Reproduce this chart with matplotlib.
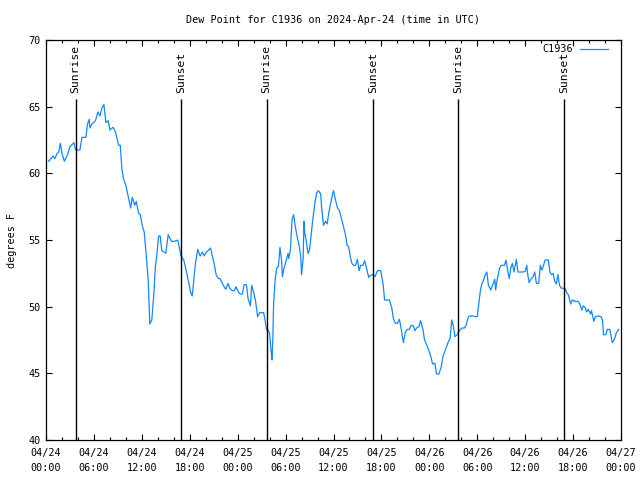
import datetime
import matplotlib
matplotlib.use("Agg")
import matplotlib.pyplot as plt
import matplotlib.dates as mdates

# hours since 2024-04-24 00:00 UTC, dew point in deg F
hours = [0.3, 0.9, 1.1, 1.4, 1.6, 1.8, 2.0, 2.3, 2.7, 3.0, 3.5, 3.7, 4.25, 4.5, 5.0, 5.2,
         5.4, 5.5, 5.75, 6.2, 6.5, 6.75, 7.0, 7.25, 7.5, 7.8, 8.0, 8.4, 8.7, 8.9, 9.1, 9.3,
         9.5, 9.7, 10.0, 10.3, 10.6, 10.8, 11.1, 11.3, 11.6, 11.8, 12.1, 12.3, 12.6, 12.8,
         13.0, 13.25, 13.5, 13.7, 13.9, 14.1, 14.3, 14.5, 15.0, 15.3, 15.7, 16.1, 16.5,
         16.9, 17.25, 17.6, 17.9, 18.1, 18.3, 18.5, 18.7, 19.0, 19.3, 19.6, 19.8, 20.1,
         20.3, 20.6, 20.9, 21.1, 21.3, 21.6, 21.8, 22.2, 22.5, 22.8, 23.0, 23.3, 23.6,
         23.8, 24.1, 24.3, 24.6, 24.8, 25.1, 25.3, 25.6, 25.75, 26.0, 26.25, 26.5, 26.75,
         27.25, 27.4, 27.6, 27.8, 28.0, 28.2, 28.3, 28.4, 28.5, 28.7, 28.9, 29.1, 29.3,
         29.5, 29.6, 29.8, 30.1, 30.3, 30.4, 30.6, 30.8, 31.0, 31.25, 31.5, 31.7, 31.9,
         32.0, 32.2, 32.3, 32.4, 32.6, 32.8, 33.0, 33.2, 33.4, 33.7, 33.9, 34.1, 34.4,
         34.5, 34.75, 35.0, 35.2, 35.4, 35.6, 35.8, 36.0, 36.25, 36.5, 36.75, 37.0,
         37.25, 37.5, 37.7, 37.9, 38.1, 38.3, 38.5, 38.75, 39.0, 39.2, 39.4, 39.7, 39.9,
         40.1, 40.4, 40.5, 40.9, 41.2, 41.5, 41.9, 42.2, 42.4, 43.0, 43.3, 43.5, 43.75,
         44.0, 44.25, 44.5, 44.75, 45.0, 45.25, 45.5, 45.7, 46.0, 46.2, 46.4, 46.7, 46.9,
         47.2, 47.4, 47.7, 47.9, 48.2, 48.4, 48.7, 48.9, 49.2, 49.5, 49.7, 50.0, 50.2,
         50.4, 50.6, 50.8, 51.0, 51.2, 51.5, 51.75, 52.1, 52.4, 52.6, 52.9, 53.2, 53.5,
         53.75, 54.0, 54.2, 54.4, 54.6, 54.8, 55.0, 55.2, 55.4, 55.7, 55.9, 56.2, 56.3,
         56.5, 56.8, 57.0, 57.4, 57.6, 57.8, 58.0, 58.2, 58.4, 58.6, 58.9, 59.1, 59.75,
         60.0, 60.2, 60.3, 60.5, 60.75, 61.0, 61.2, 61.4, 61.7, 61.9, 62.1, 62.25, 62.5,
         62.9, 63.1, 63.3, 63.5, 63.7, 63.9, 64.1, 64.3, 64.5, 65.0, 65.2, 65.4, 65.7,
         65.9, 66.25, 66.6, 66.8, 67.1, 67.25, 67.5, 67.7, 67.9, 68.2, 68.3, 68.6, 68.8,
         69.2, 69.5, 69.7, 69.8, 70.1, 70.3, 70.6, 70.9, 71.2, 71.4, 71.7]
dewpt = [60.9, 61.3, 61.1, 61.5, 61.6, 62.25, 61.5, 60.9, 61.4, 62.0, 62.3, 61.75, 61.75,
         62.7, 62.7, 63.7, 64.05, 63.4, 63.7, 63.95, 64.6, 64.3, 64.9, 65.15, 63.8, 63.95,
         63.25, 63.45, 63.1, 62.6, 62.1, 62.1, 60.35, 59.6, 59.1, 58.25, 57.4, 58.2, 57.6,
         57.9, 57.0, 56.9, 55.95, 55.6, 53.5, 51.95, 48.7, 49.0, 50.95, 53.0, 54.0, 55.3,
         55.3, 54.2, 54.0, 55.4, 54.9, 54.9, 55.0, 53.8, 53.5, 52.6, 51.7, 51.1, 50.8,
         51.9, 53.2, 54.3, 53.8, 54.1, 53.8, 54.1, 54.2, 54.4, 53.6, 53.1, 52.4, 52.1,
         52.1, 51.6, 51.3, 51.75, 51.4, 51.2, 51.2, 51.5, 51.1, 50.95, 50.95, 51.65,
         51.65, 50.6, 50.05, 51.6, 51.1, 50.4, 49.25, 49.55, 49.55, 49.1, 48.3, 48.25,
         48.0, 46.55, 46.0, 47.5, 50.25, 52.1, 52.9, 53.0, 54.45, 53.5, 52.25, 52.9, 53.5,
         54.0, 53.6, 54.25, 56.5, 56.9, 55.9, 55.1, 54.6, 53.75, 52.4, 53.6, 56.4, 55.5,
         54.9, 54.0, 54.25, 55.4, 56.5, 57.9, 58.55, 58.7, 58.45, 57.5, 56.1, 56.4, 56.2,
         57.0, 57.6, 58.2, 58.7, 58.0, 57.4, 57.2, 56.6, 56.0, 55.4, 54.6, 54.5, 53.75,
         53.25, 53.1, 53.1, 53.55, 52.7, 53.1, 53.1, 53.45, 53.0, 52.2, 52.3, 52.4, 52.25,
         52.7, 52.7, 51.75, 50.5, 50.5, 49.9, 49.1, 48.75, 48.75, 49.05, 48.25, 47.3,
         48.1, 48.3, 48.3, 48.6, 48.55, 48.2, 48.4, 48.5, 48.95, 48.3, 47.5, 47.1, 46.75,
         46.25, 45.7, 45.75, 44.95, 44.95, 45.5, 46.25, 46.75, 47.1, 47.4, 47.6, 49.0,
         48.6, 47.75, 47.9, 48.2, 48.4, 48.4, 48.6, 49.25, 49.3, 49.3, 49.25, 49.25, 50.25,
         51.25, 51.75, 52.0, 52.4, 52.6, 51.6, 51.25, 51.6, 52.05, 51.25, 52.05, 52.9,
         53.1, 53.1, 53.5, 52.75, 52.1, 52.9, 53.25, 52.6, 53.55, 52.6, 52.6, 52.65, 53.1,
         52.5, 51.8, 52.1, 52.25, 52.6, 51.75, 51.75, 53.1, 52.75, 53.0, 53.5, 53.5, 52.6,
         52.4, 52.5, 51.9, 51.7, 52.4, 51.6, 51.4, 51.35, 51.05, 50.9, 50.2, 50.5, 50.4,
         50.4, 50.25, 49.75, 50.05, 49.95, 49.6, 49.8, 49.45, 49.7, 48.9, 49.25, 49.3,
         49.25, 49.0, 47.9, 47.9, 48.3, 48.3, 47.3, 47.6, 48.0, 48.3]

sun_hours = [3.7, 16.95, 27.63, 40.95, 51.57, 64.9]
sun_labels = ["Sunrise", "Sunset", "Sunrise", "Sunset", "Sunrise", "Sunset"]

start = datetime.datetime(2024, 4, 24)
times = [start + datetime.timedelta(hours=h) for h in hours]
sun_times = [start + datetime.timedelta(hours=h) for h in sun_hours]

plt.rcParams['font.family'] = 'DejaVu Sans Mono'
plt.rcParams['font.size'] = 7.3

fig = plt.figure(figsize=(6.4, 4.8), dpi=100)
ax = fig.add_axes([46/640, 40/480, 575/640, 400/480])

ax.plot(times, dewpt, color='#1188ff', lw=0.9, label='C1936')

for t, lab in zip(sun_times, sun_labels):
    ax.vlines(t, 40, 65.6, color='black', lw=1)
    ax.text(t, 66.0, lab, rotation=90, ha='center', va='bottom', fontsize=8.2)

ax.set_xlim(start, start + datetime.timedelta(hours=72))
ax.set_ylim(40, 70)
ax.set_yticks(range(40, 71, 5))

ax.xaxis.set_major_locator(mdates.HourLocator(byhour=range(0, 24, 6)))
ax.xaxis.set_major_formatter(mdates.DateFormatter('%m/%d\n%H:%M'))
ax.xaxis.set_minor_locator(mdates.HourLocator(byhour=range(0, 24, 2)))
for lbl in ax.get_xticklabels():
    lbl.set_linespacing(1.6)

ax.tick_params(which='both', direction='in', top=True, right=True, width=0.8)
ax.tick_params(which='major', length=4.5, pad=6)
ax.tick_params(which='minor', length=2.5)
ax.tick_params(axis='y', pad=4)
for s in ax.spines.values():
    s.set_linewidth(0.9)

ax.set_ylabel('degrees F', labelpad=8)
ax.set_title('Dew Point for C1936 on 2024-Apr-24 (time in UTC)', fontsize=7.3, pad=12)

ax.legend(loc='upper right', bbox_to_anchor=(0.984, 1.0), frameon=False,
          markerfirst=False, handlelength=2.75, borderaxespad=0.1, borderpad=0.3,
          handletextpad=0.7, fontsize=7.3)

fig.savefig('out.png', dpi=100)
